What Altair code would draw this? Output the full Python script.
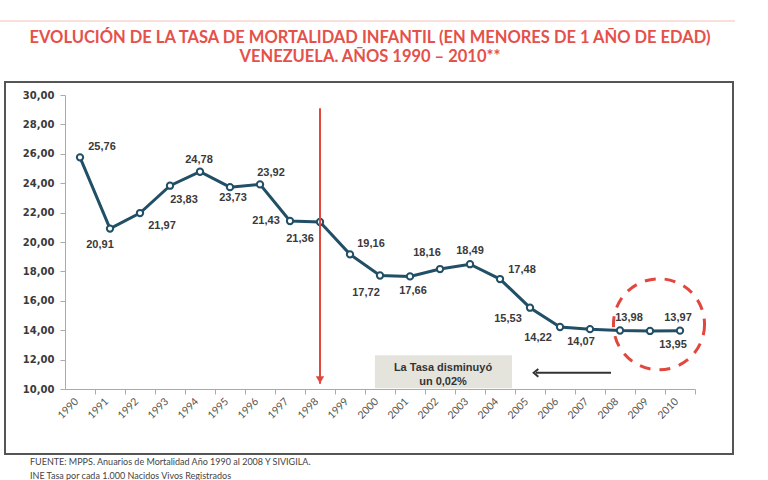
import altair as alt
import pandas as pd

years = list(range(1990, 2011))
rates = [25.76, 20.91, 21.97, 23.83, 24.78, 23.73, 23.92, 21.43, 21.36, 19.16,
         17.72, 17.66, 18.16, 18.49, 17.48, 15.53, 14.22, 14.07, 13.98, 13.95, 13.97]
y_ticks = [10, 12, 14, 16, 18, 20, 22, 24, 26, 28, 30]

title_lines = ["EVOLUCIÓN DE LA TASA DE MORTALIDAD INFANTIL (EN MENORES DE 1 AÑO DE EDAD)",
               "VENEZUELA. AÑOS 1990 – 2010**"]
footer_lines = ["FUENTE: MPPS. Anuarios de Mortalidad Año 1990 al 2008 Y SIVIGILA.",
                "INE Tasa por cada 1.000 Nacidos Vivos Registrados"]
note_lines = ["La Tasa disminuyó", "un 0,02%"]

df = pd.DataFrame({"year": years, "rate": rates})

# label offsets (dx, dy) in px, per year
label_offsets = {
    1990: (22, -10), 1991: (-10, 16), 1992: (22, 13), 1993: (14, 14), 1994: (-1, -12),
    1995: (3, 11), 1996: (11, -11), 1997: (-24, 0), 1998: (-20, 17), 1999: (21, -10),
    2000: (-14, 17), 2001: (3, 15), 2002: (-13, -16), 2003: (0, -13), 2004: (22, -9),
    2005: (-22, 11), 2006: (-22, 11), 2007: (-9, 13), 2008: (9, -12), 2009: (23, 14),
    2010: (-2, -13),
}

LINE = "#214f66"
RED = "#e2473d"

xscale = alt.Scale(domain=[1989.5, 2010.5], nice=False, zero=False)
yscale = alt.Scale(domain=[10, 30], nice=False, zero=False)

x_axis = alt.Axis(
    values=years, tickCount=21, format="d", title=None, labelAngle=-45, labelAlign="right",
    labelBaseline="top", tickOffset=15, labelOffset=-22, labelPadding=2, tickSize=5,
    tickColor="#aaa", domainColor="#aaa", labelColor="#555", labelFont="Lato",
    labelFontSize=10.5, grid=False, labelOverlap=False, labelBound=False,
    labelFlush=False)
y_axis = alt.Axis(
    values=y_ticks, tickCount=11, title=None, grid=False, tickSize=5,
    tickColor="#aaa", domainColor="#aaa", labelColor="#3a3a3a", labelFont="DejaVu Sans",
    labelFontWeight="bold", labelFontSize=10, labelPadding=6, labelOverlap=False,
    labelFlush=False, labelBound=False,
    labelExpr="replace(format(datum.value, '.2f'), '.', ',')")

base = alt.Chart(df)

line = base.mark_line(color=LINE, strokeWidth=3).encode(
    x=alt.X("year:Q", scale=xscale, axis=x_axis),
    y=alt.Y("rate:Q", scale=yscale, axis=y_axis))
pts = base.mark_point(shape="circle", filled=True, fill="white", stroke=LINE,
                      strokeWidth=2, size=40, opacity=1).encode(
    x=alt.X("year:Q", axis=x_axis), y=alt.Y("rate:Q", axis=y_axis))

labels = []
for yr, (dx, dy) in label_offsets.items():
    labels.append(
        base.transform_filter(alt.datum.year == yr)
        .transform_calculate(lbl="replace(format(datum.rate, '.2f'), '.', ',')")
        .mark_text(font="Liberation Sans", fontWeight="bold", fontSize=11,
                   color="#3a3a3a", dx=dx, dy=dy)
        .encode(x="year:Q", y="rate:Q", text="lbl:N")
    )

one = alt.Data(values=[{"a": 1}])

# red vertical marker at 1998
red_df = pd.DataFrame({"year": [1998], "rate": [29.1], "bottom": [10.35]})
red_rule = alt.Chart(red_df).mark_rule(color=RED, strokeWidth=2).encode(
    x="year:Q", y="rate:Q", y2="bottom:Q")
red_head = alt.Chart(red_df).mark_point(shape="triangle-down", filled=True, color=RED,
                                        size=70, opacity=1, yOffset=-4).encode(
    x="year:Q", y=alt.Y("bottom:Q"))

# dashed circle
circ_df = pd.DataFrame({"year": [2009.3], "rate": [14.4]})
circle = alt.Chart(circ_df).mark_point(shape="circle", filled=False, stroke=RED,
                                       strokeWidth=3, strokeDash=[11, 9], size=8300,
                                       opacity=1).encode(x="year:Q", y="rate:Q")

# note box
box_df = pd.DataFrame({"year": [1999.83], "x2": [2004.4], "rate": [12.3], "y2": [10.05]})
box = alt.Chart(box_df).mark_rect(fill="#e4e4dc").encode(
    x="year:Q", x2="x2:Q", y="rate:Q", y2="y2:Q")
note_df = pd.DataFrame({"year": [2002.1, 2002.1], "rate": [11.45, 10.5], "t": note_lines})
note = alt.Chart(note_df).mark_text(font="Liberation Sans", fontWeight="bold",
                                    fontSize=11, color="#333").encode(
    x="year:Q", y="rate:Q", text="t:N")

# arrow
arr_df = pd.DataFrame({"year": [2005.2], "x2": [2007.7], "rate": [11.1]})
arrow = alt.Chart(arr_df).mark_rule(color="#333", strokeWidth=2).encode(
    x="year:Q", x2="x2:Q", y="rate:Q")
arrow_head = alt.Chart(arr_df).mark_point(shape="M0.6,-1L-0.6,0L0.6,1", filled=False,
                                          stroke="#333", strokeWidth=2, size=60,
                                          opacity=1).encode(x="year:Q", y="rate:Q")

# frame
frame = alt.Chart(one).mark_rect(fill=None, stroke="#555", strokeWidth=2).encode(
    x=alt.value(-60), x2=alt.value(668), y=alt.value(-13), y2=alt.value(359))
topline = alt.Chart(one).mark_rule(color="#f4c0ba", strokeWidth=1).encode(
    x=alt.value(-65), x2=alt.value(670), y=alt.value(-74))

title = alt.Chart(one).mark_text(font="Lato", fontWeight="bold", fontSize=16.5,
                                 color="#e5514a", align="center", lineHeight=19,
                                 baseline="middle").encode(
    x=alt.value(305), y=alt.value(-57), text=alt.value(title_lines))

footer = alt.Chart(one).mark_text(font="Lato", fontSize=9, color="#444",
                                  align="left", lineHeight=14, baseline="middle").encode(
    x=alt.value(-35), y=alt.value(367), text=alt.value(footer_lines))

chart = alt.layer(
    line, pts, frame, topline, title, footer, box, note, arrow, arrow_head,
    *labels, red_rule, red_head, circle
).properties(
    width=630, height=294,
    autosize=alt.AutoSizeParams(type="none"),
    padding={"left": 65, "top": 95, "right": 73, "bottom": 91},
    background="white",
).configure_view(stroke=None)

chart.save("out.html", embed_options={"renderer": "svg", "actions": False})
